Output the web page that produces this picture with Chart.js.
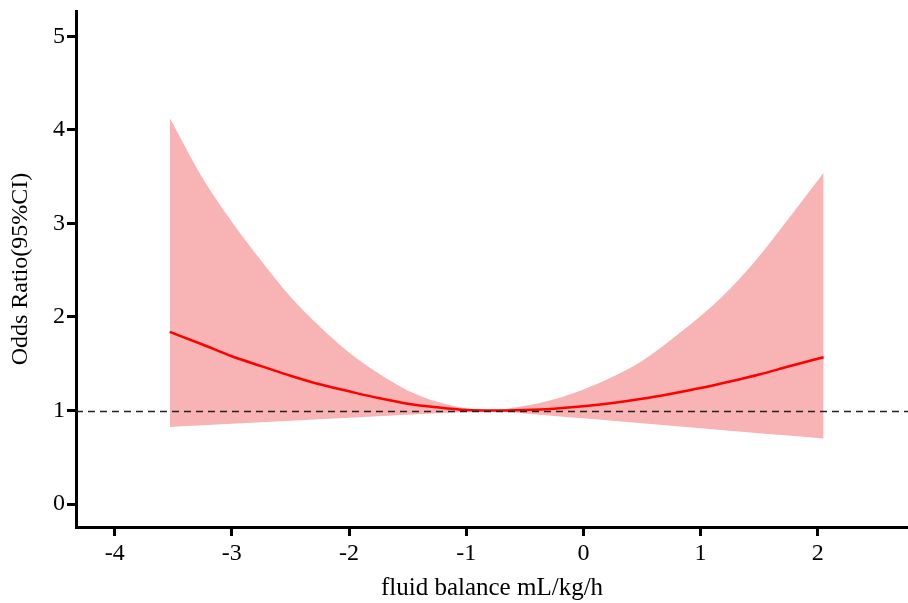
<!DOCTYPE html>
<html lang="en">
<head>
  <meta charset="UTF-8">
  <title>Odds Ratio – fluid balance</title>
  <style>
    html, body { margin: 0; padding: 0; background: #fff; }
    #wrap { width: 908px; height: 603px; }
  </style>
</head>
<body>
  <div id="wrap"><canvas id="chartCanvas" width="908" height="603"></canvas></div>

  <script src="https://cdn.jsdelivr.net/npm/chart.js"></script>
  <script>
    // values
    const xValues  = [-3.53, -3.25, -3.0, -2.75, -2.5, -2.25, -2.0, -1.75, -1.5, -1.25, -1.0, -0.8, -0.5, -0.25, 0, 0.25, 0.5, 0.75, 1.0, 1.25, 1.5, 1.75, 2.05];
    const orValues = [1.84, 1.706, 1.58, 1.475, 1.372, 1.28, 1.205, 1.133, 1.073, 1.034, 1.005, 1.0, 1.006, 1.02, 1.045, 1.08, 1.125, 1.18, 1.24, 1.31, 1.385, 1.47, 1.57];
    const upperCI  = [4.126, 3.486, 3.018, 2.601, 2.217, 1.898, 1.62, 1.397, 1.215, 1.093, 1.023, 1.0, 1.05, 1.12, 1.225, 1.36, 1.53, 1.76, 2.01, 2.30, 2.65, 3.05, 3.54];
    const lowerCI  = [0.824, 0.842, 0.858, 0.874, 0.890, 0.907, 0.923, 0.939, 0.955, 0.971, 0.987, 1.0, 0.968, 0.942, 0.916, 0.89, 0.863, 0.837, 0.811, 0.784, 0.758, 0.732, 0.70];
    const xTicks = [-4, -3, -2, -1, 0, 1, 2];
    const yTicks = [0, 1, 2, 3, 4, 5];
    const refValue = 1;

    const pts = arr => arr.map((v, i) => ({ x: xValues[i], y: v }));
    const serif = 'Liberation Serif, Times New Roman, serif';

    // dashed reference line at OR = 1
    const refLine = {
      id: 'refLine',
      afterDatasetsDraw(chart) {
        const { ctx, chartArea, scales } = chart;
        const y = Math.round(scales.y.getPixelForValue(refValue)) + 0.5;
        ctx.save();
        ctx.strokeStyle = '#222';
        ctx.lineWidth = 1.5;
        ctx.setLineDash([7, 5]);
        ctx.beginPath();
        ctx.moveTo(chartArea.left, y);
        ctx.lineTo(chartArea.right, y);
        ctx.stroke();
        ctx.restore();
      }
    };

    const axisCommon = {
      type: 'linear',
      border: { display: true, color: '#000', width: 3 },
      grid: { drawOnChartArea: false, drawTicks: true, tickLength: 9, lineWidth: 3, color: '#000' },
      ticks: { color: '#000', font: { family: serif, size: 24 }, stepSize: 1, includeBounds: false }
    };

    const ctx = document.getElementById('chartCanvas').getContext('2d');
    new Chart(ctx, {
      type: 'line',
      data: {
        datasets: [
          {
            label: 'OR',
            data: pts(orValues),
            borderColor: '#ff0000',
            borderWidth: 2.5,
            pointRadius: 0,
            fill: false,
            cubicInterpolationMode: 'monotone',
            order: 0
          },
          {
            label: 'upper',
            data: pts(upperCI),
            borderWidth: 0,
            pointRadius: 0,
            backgroundColor: '#f8b3b4',
            fill: '+1',
            cubicInterpolationMode: 'monotone',
            order: 1
          },
          {
            label: 'lower',
            data: pts(lowerCI),
            borderWidth: 0,
            pointRadius: 0,
            fill: false,
            cubicInterpolationMode: 'monotone',
            order: 2
          }
        ]
      },
      options: {
        responsive: false,
        animation: false,
        events: [],
        layout: { padding: { top: 11, right: 0, left: 0, bottom: 0 } },
        plugins: {
          legend: { display: false },
          tooltip: { enabled: false },
          filler: { drawTime: 'beforeDatasetsDraw' }
        },
        scales: {
          x: Object.assign({}, axisCommon, {
            min: -4.33, max: 2.77,
            ticks: Object.assign({}, axisCommon.ticks, { padding: 3 }),
            afterBuildTicks: s => { s.ticks = xTicks.map(v => ({ value: v })); },
            afterFit: s => { s.height = 76; s.paddingRight = 0; },
            title: { display: true, text: 'fluid balance mL/kg/h', color: '#000',
                     font: { family: serif, size: 25 }, padding: { top: 6, bottom: 0 } }
          }),
          y: Object.assign({}, axisCommon, {
            min: -0.245, max: 5.27,
            ticks: Object.assign({}, axisCommon.ticks, { padding: 2 }),
            afterBuildTicks: s => { s.ticks = yTicks.map(v => ({ value: v })); },
            afterFit: s => { s.width = 76; s.paddingTop = 0; s.paddingBottom = 0; },
            title: { display: true, text: 'Odds Ratio(95%CI)', color: '#000',
                     font: { family: serif, size: 24 }, padding: { top: 6, bottom: 6 } }
          })
        }
      },
      plugins: [refLine]
    });
  </script>
</body>
</html>
